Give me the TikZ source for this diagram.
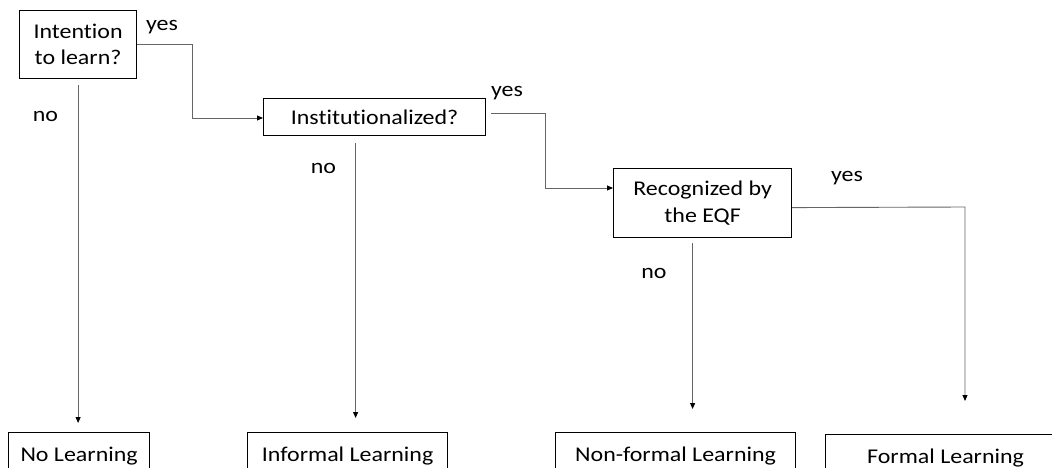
\documentclass[tikz,border=0pt]{standalone}
\usepackage{fontspec}
\setmainfont{Carlito}[FakeStretch=1.14, Ligatures=NoCommon]
\usetikzlibrary{arrows.meta}
\tikzset{
  box/.style={draw=black, line width=1.2pt, rectangle, inner sep=0pt, anchor=north west, align=center},
  conn/.style={draw=black!60, line width=0.9pt, -{Triangle[length=6pt,width=5pt,fill=black,color=black]}},
  lbl/.style={anchor=base, inner sep=0pt}
}
\begin{document}
\begin{tikzpicture}[x=1pt,y=-1pt,font=\fontsize{21}{26.5}\selectfont]
\clip (0,0) rectangle (1052,468);
\fill[white] (0,0) rectangle (1052,468);
% decision boxes
\node[box, minimum width=117pt, minimum height=68pt] (b1) at (19,10) {Intention\\to learn?};
\node[box, minimum width=222pt, minimum height=37pt] (b2) at (263,98) {Institutionalized?};
\node[box, minimum width=178pt, minimum height=69pt] (b3) at (613,168) {Recognized by\\the EQF};
% outcome boxes
\node[box, minimum width=141pt, minimum height=46pt] (nol) at (8,432) {No Learning};
\node[box, minimum width=200pt, minimum height=46pt] (inf) at (247,432) {Informal Learning};
\node[box, minimum width=240pt, minimum height=46pt] (nfl) at (555,432) {Non-formal Learning};
\node[box, minimum width=240pt, minimum height=46pt] (fl) at (825,434) {Formal Learning};
% bend points
\coordinate (c1) at (192,118);
\coordinate (c2) at (545,188);
\coordinate (c3) at (965,207);
% connectors
\draw[conn] (b1.east) -| (c1) -- (c1 -| b2.west);
\draw[conn, shorten <=6pt, shorten >=9pt] (b1.south) -- (b1.south |- nol.north);
\draw[conn, shorten <=5pt] ([yshift=3.5pt]b2.east) -| (c2) -- (c2 -| b3.west);
\draw[conn, shorten <=7pt, shorten >=14pt] ([xshift=-19pt]b2.south) -- ([xshift=-19pt]b2.south |- inf.north);
\draw[conn, shorten >=33pt] ([yshift=-4.5pt]b3.east) -- (c3) -- (c3 |- fl.north);
\draw[conn, shorten <=5pt, shorten >=23pt] ([xshift=-10pt]b3.south) -- ([xshift=-10pt]b3.south |- nfl.north);
% labels
\node[lbl] (y1) at (162,30.5) {yes};
\node[lbl] (n1) at (45.5,122) {no};
\node[lbl] (y2) at (507,96.5) {yes};
\node[lbl] (n2) at (323.5,173) {no};
\node[lbl] (y3) at (847,181.5) {yes};
\node[lbl] (n3) at (654,278) {no};
\end{tikzpicture}
\end{document}
